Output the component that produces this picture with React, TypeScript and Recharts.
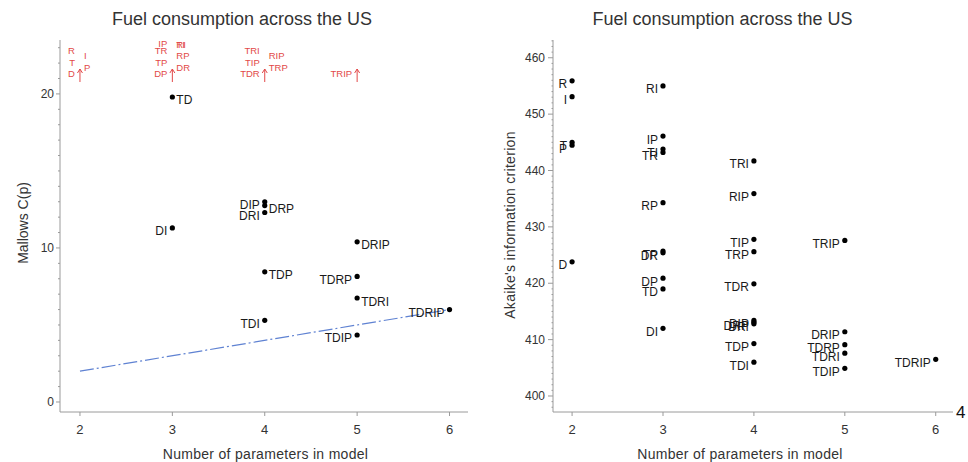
import React from 'react';
import { ScatterChart, Scatter, XAxis, YAxis, ReferenceLine } from 'recharts';

// ---------- Data ----------
// Left panel: Mallows C(p), models shown inside the plot
const cpModels = ['TD', 'DIP', 'DRP', 'DRI', 'DI', 'DRIP', 'TDP', 'TDRP', 'TDRI', 'TDRIP', 'TDI', 'TDIP'];
const cpParams = [3, 4, 4, 4, 3, 5, 4, 5, 5, 6, 4, 5];
const cpValues = [19.8, 13.0, 12.75, 12.3, 11.3, 10.4, 8.45, 8.15, 6.75, 6.0, 5.3, 4.35];

// Left panel: models whose C(p) is above the plotted range (shown in red at the top)
const offModels = ['R', 'T', 'D', 'I', 'P', 'IP', 'TR', 'TP', 'DP', 'TI', 'RI', 'RP', 'DR', 'TRI', 'TIP', 'TDR', 'RIP', 'TRP', 'TRIP'];
const offParams = [2, 2, 2, 2, 2, 3, 3, 3, 3, 3, 3, 3, 3, 4, 4, 4, 4, 4, 5];

// Reference line C(p) = p
const refParams = [2, 6];
const refCp = [2, 6];

// Right panel: Akaike's information criterion
const aicModels = [
  'R', 'I', 'T', 'P', 'D',
  'RI', 'IP', 'TI', 'TR', 'RP', 'TP', 'DR', 'DP', 'TD', 'DI',
  'TRI', 'RIP', 'TIP', 'TRP', 'TDR', 'DIP', 'DRP', 'DRI', 'TDP', 'TDI',
  'TRIP', 'DRIP', 'TDRP', 'TDRI', 'TDIP',
  'TDRIP',
];
const aicParams = [
  2, 2, 2, 2, 2,
  3, 3, 3, 3, 3, 3, 3, 3, 3, 3,
  4, 4, 4, 4, 4, 4, 4, 4, 4, 4,
  5, 5, 5, 5, 5,
  6,
];
const aicValues = [
  455.9, 453.1, 445.0, 444.5, 423.8,
  455.0, 446.1, 443.8, 443.2, 434.3, 425.7, 425.4, 420.9, 419.0, 412.0,
  441.7, 435.9, 427.8, 425.6, 419.9, 413.4, 413.1, 412.8, 409.3, 406.0,
  427.6, 411.4, 409.1, 407.6, 404.9,
  406.5,
];

const xTicks = [2, 3, 4, 5, 6];
const cpMajor = [0, 10, 20];
const aicMajor = [400, 410, 420, 430, 440, 450, 460];

// ---------- Axis config ----------
const CP_DOMAIN: [number, number] = [-0.65, 23.5];
const AIC_DOMAIN: [number, number] = [397.16, 463.15];
const LX_DOMAIN: [number, number] = [1.784, 6.2];
const RX_DOMAIN: [number, number] = [1.79, 6.19];

const cpTicks: number[] = [];
for (let v = 0; v <= 23; v++) cpTicks.push(v);
const aicTicks: number[] = [];
for (let v = 398; v <= 463; v++) aicTicks.push(v);

const cpData = cpModels.map((m, i) => ({ p: cpParams[i], v: cpValues[i], label: m }));
const offData = offModels.map((m, i) => ({ p: offParams[i], v: CP_DOMAIN[1], label: m }));
const aicData = aicModels.map((m, i) => ({ p: aicParams[i], v: aicValues[i], label: m }));

// ---------- Styling ----------
const FONT = '"Liberation Sans", Arial, Helvetica, sans-serif';
const AXIS = '#9a9a9a';
const TEXT = '#333';
const RED = '#e24848';

const cpRightLabels = new Set(['TD', 'DRP', 'DRIP', 'TDP', 'TDRI']);

// red label slot: side + row (row 0 = bottom)
const offSlots: Record<string, [string, number]> = {
  R: ['L', 2], T: ['L', 1], D: ['L', 0], I: ['R', 1], P: ['R', 0],
  IP: ['L', 3], TR: ['L', 2], TP: ['L', 1], DP: ['L', 0], TI: ['R', 2], RI: ['R', 2], RP: ['R', 1], DR: ['R', 0],
  TRI: ['L', 2], TIP: ['L', 1], TDR: ['L', 0], RIP: ['R', 1], TRP: ['R', 0],
  TRIP: ['L', 0],
};
const leftRows = [34, 22.5, 11, 3.5];
const rightRows = [27.3, 16, 4.5];

const pointShape = (rightSet?: Set<string>) => (props: any) => {
  const { cx, cy, payload } = props;
  const right = rightSet ? rightSet.has(payload.label) : false;
  return (
    <g>
      <circle cx={cx} cy={cy} r={2.6} fill="#000" />
      <text
        x={right ? cx + 4 : cx - 5}
        y={cy + 7.5}
        textAnchor={right ? 'start' : 'end'}
        fontSize={12}
        fill="#1a1a1a"
        fontFamily={FONT}
      >
        {payload.label}
      </text>
    </g>
  );
};

const offShape = (props: any) => {
  const { cx, cy, payload } = props;
  const slot = offSlots[payload.label] || ['L', 0];
  const left = slot[0] === 'L';
  const dy = left ? leftRows[slot[1]] : rightRows[slot[1]];
  const arrow = left && slot[1] === 0;
  return (
    <g>
      <text
        x={left ? cx - 5 : cx + 4}
        y={cy + dy + 3.2}
        textAnchor={left ? 'end' : 'start'}
        fontSize={9.5}
        fill={RED}
        fontFamily={FONT}
      >
        {payload.label}
      </text>
      {arrow && (
        <path
          d={`M${cx},${cy + 42} L${cx},${cy + 29} M${cx - 2.5},${cy + 33} L${cx},${cy + 29} L${cx + 2.5},${cy + 33}`}
          stroke={RED}
          strokeWidth={1}
          fill="none"
        />
      )}
    </g>
  );
};

const makeYTick = (majors: number[], majorLen: number, minorLen: number, gap: number, fontSize: number) => (props: any) => {
  const { x, y, payload } = props;
  const isMajor = majors.includes(payload.value);
  return (
    <g>
      <line x1={x - (isMajor ? majorLen : minorLen)} x2={x} y1={y} y2={y} stroke={AXIS} strokeWidth={1} />
      {isMajor && (
        <text x={x - gap} y={y + 4} textAnchor="end" fontSize={fontSize} fill={TEXT} fontFamily={FONT}>
          {payload.value}
        </text>
      )}
    </g>
  );
};

const XTick = (props: any) => {
  const { x, y, payload } = props;
  return (
    <g>
      <line x1={x} x2={x} y1={y} y2={y + 4} stroke={AXIS} strokeWidth={1} />
      <text x={x} y={y + 22} textAnchor="middle" fontSize={13} fill={TEXT} fontFamily={FONT}>
        {payload.value}
      </text>
    </g>
  );
};

export default function App() {
  return (
    <div style={{ position: 'absolute', left: 0, top: 0, width: 968, height: 462, background: '#fff', overflow: 'hidden' }}>
      <div style={{ position: 'absolute', left: 0, top: 0 }}>
        <ScatterChart width={490} height={462} margin={{ top: 40, right: 22, bottom: 20, left: 10 }}>
          <XAxis
            dataKey="p"
            type="number"
            domain={LX_DOMAIN}
            allowDataOverflow
            ticks={xTicks}
            interval={0}
            height={30}
            tickSize={0}
            tickMargin={0}
            tickLine={false}
            axisLine={{ stroke: AXIS }}
            tick={XTick}
          />
          <XAxis xAxisId="top" orientation="top" type="number" domain={LX_DOMAIN} height={0} tick={false} tickLine={false} axisLine={{ stroke: AXIS }} />
          <YAxis
            dataKey="v"
            type="number"
            domain={CP_DOMAIN}
            allowDataOverflow
            ticks={cpTicks}
            interval={0}
            width={50}
            tickSize={0}
            tickMargin={0}
            tickLine={false}
            axisLine={{ stroke: AXIS }}
            tick={makeYTick(cpMajor, 4, 2, 6, 12)}
          />
          <YAxis yAxisId="right" orientation="right" type="number" domain={CP_DOMAIN} width={0} tick={false} tickLine={false} axisLine={{ stroke: AXIS }} />
          <ReferenceLine
            segment={[{ x: refParams[0], y: refCp[0] }, { x: refParams[1], y: refCp[1] }]}
            stroke="#5f82d2"
            strokeWidth={1.2}
            strokeDasharray="14 3 2 3"
            ifOverflow="visible"
          />
          <Scatter data={cpData} isAnimationActive={false} shape={pointShape(cpRightLabels)} />
          <Scatter data={offData} isAnimationActive={false} shape={offShape} />
        </ScatterChart>
      </div>
      <div style={{ position: 'absolute', left: 490, top: 0 }}>
        <ScatterChart width={478} height={462} margin={{ top: 40, right: 15, bottom: 20, left: 11 }}>
          <XAxis
            dataKey="p"
            type="number"
            domain={RX_DOMAIN}
            allowDataOverflow
            ticks={xTicks}
            interval={0}
            height={30}
            tickSize={0}
            tickMargin={0}
            tickLine={false}
            axisLine={{ stroke: AXIS }}
            tick={XTick}
          />
          <XAxis xAxisId="top" orientation="top" type="number" domain={RX_DOMAIN} height={0} tick={false} tickLine={false} axisLine={{ stroke: AXIS }} />
          <YAxis
            dataKey="v"
            type="number"
            domain={AIC_DOMAIN}
            allowDataOverflow
            ticks={aicTicks}
            interval={0}
            width={52}
            tickSize={0}
            tickMargin={0}
            tickLine={false}
            axisLine={{ stroke: AXIS }}
            tick={makeYTick(aicMajor, 5, 1.5, 8, 12)}
          />
          <Scatter data={aicData} isAnimationActive={false} shape={pointShape()} />
        </ScatterChart>
      </div>
      <svg width={968} height={462} style={{ position: 'absolute', left: 0, top: 0, pointerEvents: 'none' }}>
        <g fontFamily={FONT} fill={TEXT}>
          <text x={242} y={25} textAnchor="middle" fontSize={18}>Fuel consumption across the US</text>
          <text x={722.5} y={25} textAnchor="middle" fontSize={18}>Fuel consumption across the US</text>
          <text x={265.5} y={459} textAnchor="middle" fontSize={14} letterSpacing={0.3}>Number of parameters in model</text>
          <text x={740} y={459} textAnchor="middle" fontSize={14} letterSpacing={0.3}>Number of parameters in model</text>
          <text transform="translate(27.5,223) rotate(-90)" textAnchor="middle" fontSize={14}>Mallows C(p)</text>
          <text transform="translate(515,225) rotate(-90)" textAnchor="middle" fontSize={14} letterSpacing={0.3}>Akaike's information criterion</text>
          <text x={956} y={418} fontSize={17} fill="#111">4</text>
        </g>
      </svg>
    </div>
  );
}
